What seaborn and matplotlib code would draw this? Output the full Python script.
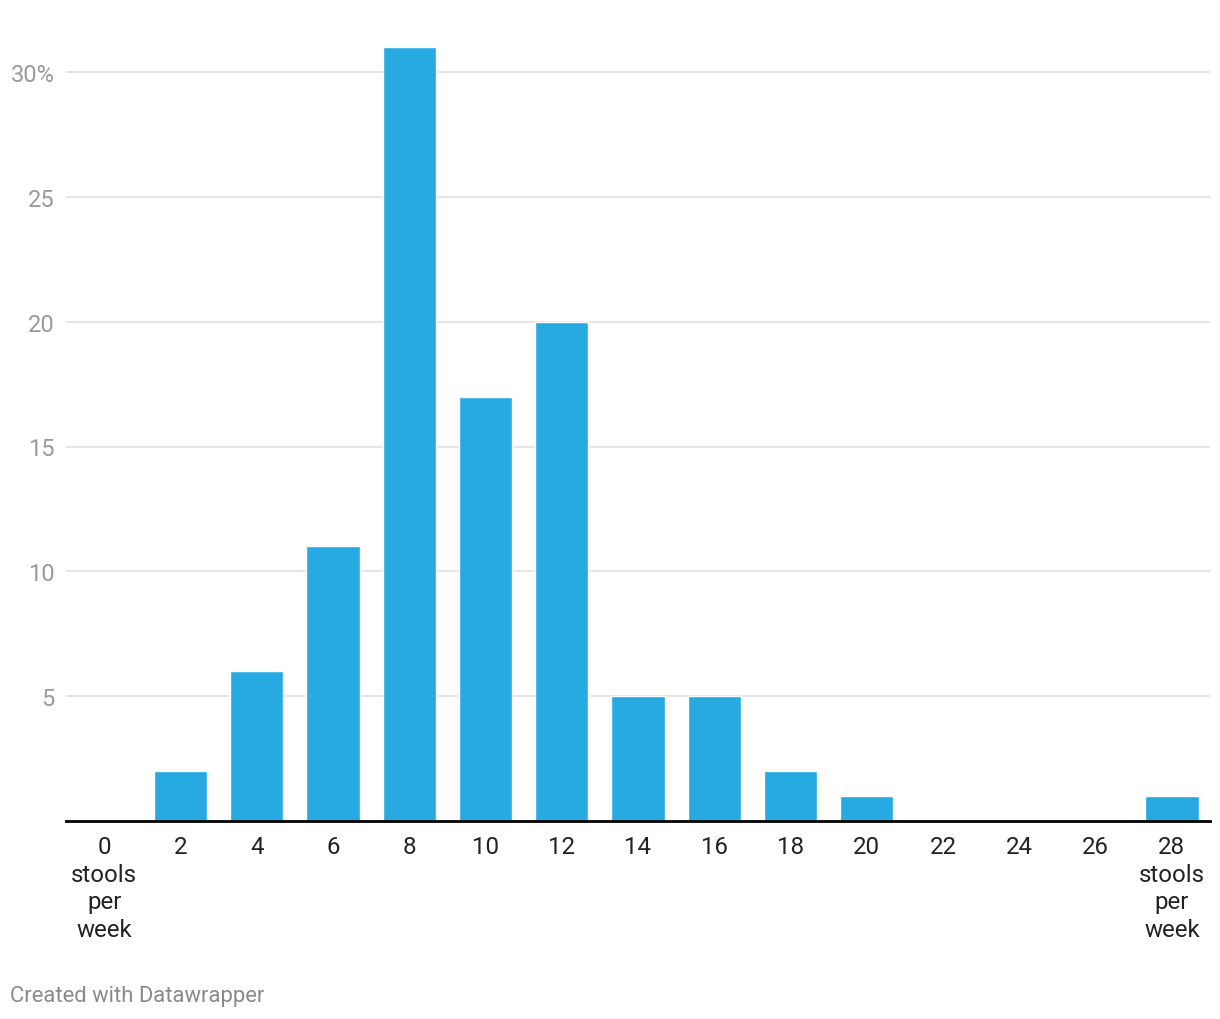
import matplotlib
matplotlib.use("Agg")
import matplotlib.pyplot as plt
import seaborn as sns
import pandas as pd

categories = ["0", "2", "4", "6", "8", "10", "12", "14", "16", "18", "20", "22", "24", "26", "28"]
tick_labels = ["0\nstools\nper\nweek", "2", "4", "6", "8", "10", "12", "14", "16", "18", "20",
               "22", "24", "26", "28\nstools\nper\nweek"]
values = [0, 2, 6, 11, 31, 17, 20, 5, 5, 2, 1, 0, 0, 0, 1]
y_ticks = [5, 10, 15, 20, 25, 30]
y_tick_labels = ["5", "10", "15", "20", "25", "30%"]

sns.set_theme(style="white")
plt.rcParams['font.family'] = ['Roboto', 'DejaVu Sans']

df = pd.DataFrame({"cat": categories, "val": values})

fig = plt.figure(figsize=(12.2, 10.2), dpi=100)
ax = fig.add_axes([66/1220, 1-822/1020, (1210-66)/1220, (822-40)/1020])

sns.barplot(data=df, x="cat", y="val", order=categories, color="#27a9e1",
            saturation=1, width=0.7, ax=ax, zorder=3)

ax.set_xlim(-0.5, len(categories)-0.5)
ax.set_ylim(0, (822-40)/((822-73)/30))
ax.set_yticks(y_ticks)
ax.set_yticklabels(y_tick_labels)
ax.set_xticks(range(len(categories)))
ax.set_xticklabels(tick_labels, linespacing=1.26)
ax.set_xlabel("")
ax.set_ylabel("")

for y in y_ticks:
    ax.axhline(y, color="#e3e3e3", lw=1.3, zorder=1)

for s in ["top", "right", "left"]:
    ax.spines[s].set_visible(False)
ax.spines["bottom"].set_color("#000000")
ax.spines["bottom"].set_linewidth(2)
ax.spines["bottom"].set_zorder(5)

ax.tick_params(axis="y", length=0, pad=8, labelsize=17, labelcolor="#9a9a9a")
ax.tick_params(axis="x", length=0, pad=10, labelsize=17.3, labelcolor="#222222")
for lbl in ax.get_xticklabels():
    lbl.set_verticalalignment("top")
    lbl.set_horizontalalignment("center")

fig.text(10/1220, 1-997/1020, "Created with Datawrapper", fontsize=15.8, color="#8a8a8a",
         ha="left", va="center")

fig.savefig("out.png", dpi=100, facecolor="white")
